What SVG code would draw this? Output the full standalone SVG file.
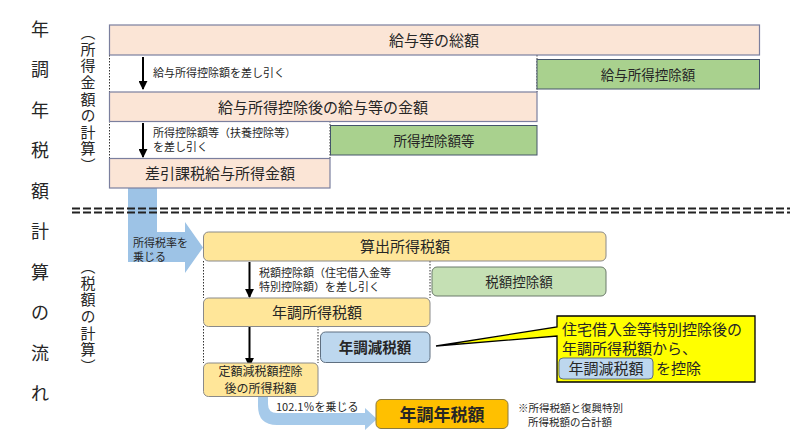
<svg xmlns="http://www.w3.org/2000/svg" width="798" height="435" viewBox="0 0 798 435">
<defs>
<style>
.t{font-family:"Noto Sans CJK JP","Noto Sans",sans-serif;fill:#262626}
.pe{fill:#fbe5d6;stroke:#7b7f9e;stroke-width:1.2}
.gr{fill:#a9d18e;stroke:#44546a;stroke-width:1}
.ye{fill:#ffe699;stroke:#8a8a8a;stroke-width:1}
.g2{fill:#c5e0b4;stroke:#6a7a6a;stroke-width:1}
.bl{fill:#bdd7ee;stroke:#5f6f80;stroke-width:1}
.dot{stroke:#333;stroke-width:1;stroke-dasharray:1.5 1.5;fill:none}
.arr{stroke:#000;stroke-width:2;fill:none;marker-end:url(#ah)}
.m{text-anchor:middle}
.vt{writing-mode:vertical-rl;font-size:15px;letter-spacing:1.6px}
</style>
<marker id="ah" viewBox="0 0 10 10" refX="9" refY="5" markerWidth="4.5" markerHeight="4.5" orient="auto" markerUnits="strokeWidth">
<path d="M0,0 L10,5 L0,10 Z" fill="#000"/>
</marker>
</defs>
<rect width="798" height="435" fill="#fff"/>

<g id="title" class="t m" font-size="18">
<text x="40" y="35.5">年</text>
<text x="40" y="76">調</text>
<text x="40" y="116.5">年</text>
<text x="40" y="157">税</text>
<text x="40" y="197.5">額</text>
<text x="40" y="238">計</text>
<text x="40" y="278.5">算</text>
<text x="40" y="319">の</text>
<text x="40" y="359.5">流</text>
<text x="40" y="400">れ</text>
</g>
<g id="label-income" class="t"><text class="vt" x="88" y="25">（所得金額の計算）</text></g>
<g id="label-tax" class="t"><text class="vt" x="88" y="259">（税額の計算）</text></g>

<g id="connectors">
<path d="M128,188 H157 V232 H185 V222 L203,247.5 L185,273 V262 H128 Z" fill="#9dc3e6"/>
<path d="M258,396 H268 V404 Q268,413 277,413 H365 V408 L377,419 L365,430 V425 H277 Q258,425 258,406 Z" fill="#a6caea"/>
<line x1="72" y1="208.5" x2="790" y2="208.5" stroke="#222" stroke-width="1.8" stroke-dasharray="8 3"/>
<line x1="72" y1="212.5" x2="790" y2="212.5" stroke="#222" stroke-width="1.8" stroke-dasharray="8 3"/>
<line class="arr" x1="143" y1="57" x2="143" y2="89"/>
<line class="arr" x1="143" y1="123" x2="143" y2="157"/>
<line class="arr" x1="249.5" y1="262" x2="249.5" y2="297"/>
<line class="arr" x1="249.5" y1="327" x2="249.5" y2="366"/>
<path class="dot" d="M109.5,25 V188 M537,55 V92 M330,121 V158 M203.5,261 V298 M203.5,326 V363 M430,261 V298 M318,326 V363"/>
<g class="t" font-size="11">
<text x="153" y="77">給与所得控除額を差し引く</text>
<text x="153" y="136.5">所得控除額等（扶養控除等）</text>
<text x="153" y="151">を差し引く</text>
<text x="133" y="246.5">所得税率を</text>
<text x="133" y="261">乗じる</text>
<text x="259" y="276.5">税額控除額（住宅借入金等</text>
<text x="259" y="291">特別控除額）を差し引く</text>
<text x="276" y="411">102.1％を乗じる</text>
</g>
</g>

<g id="n-total"><rect class="pe" x="109.5" y="25" width="650" height="30"/><text class="t m" x="434" y="46" font-size="15">給与等の総額</text></g>
<g id="n-kyuyo-kojo"><rect class="gr" x="537" y="59.5" width="222.5" height="29.5"/><text class="t m" x="648" y="79.5" font-size="13.5">給与所得控除額</text></g>
<g id="n-after-kojo"><rect class="pe" x="109.5" y="92" width="427.5" height="29.5"/><text class="t m" x="323" y="112.5" font-size="15">給与所得控除後の給与等の金額</text></g>
<g id="n-shotoku-kojo"><rect class="gr" x="330.5" y="125.5" width="206.5" height="29.5"/><text class="t m" x="434" y="145.5" font-size="13.5">所得控除額等</text></g>
<g id="n-kazei"><rect class="pe" x="109.5" y="158.5" width="220.5" height="29.5"/><text class="t m" x="220" y="179" font-size="15">差引課税給与所得金額</text></g>

<g id="n-sanshutsu"><rect class="ye" x="203.5" y="232" width="402.5" height="29" rx="5"/><text class="t m" x="405" y="252" font-size="15">算出所得税額</text></g>
<g id="n-zeigaku-kojo"><rect class="g2" x="432" y="267" width="174" height="29" rx="5"/><text class="t m" x="519" y="286.5" font-size="13.5">税額控除額</text></g>
<g id="n-nencho-shotoku"><rect class="ye" x="203.5" y="298" width="226.5" height="28.5" rx="5"/><text class="t m" x="317" y="317.5" font-size="15">年調所得税額</text></g>
<g id="n-gensei"><rect class="bl" x="320.5" y="332" width="109.5" height="30.5" rx="5"/><text class="t m" x="375" y="352.5" font-size="14.5" font-weight="bold">年調減税額</text></g>
<g id="n-teigaku"><rect class="ye" x="203.5" y="363" width="114.5" height="33.5" rx="5"/><text class="t m" x="260.5" y="376" font-size="12">定額減税額控除</text><text class="t m" x="260.5" y="393" font-size="12">後の所得税額</text></g>
<g id="n-nenzei"><rect x="376" y="399.5" width="132" height="29" rx="5" fill="#ffc000" stroke="#8a7a40" stroke-width="1"/><text class="t m" x="442" y="420.5" font-size="17" font-weight="bold">年調年税額</text></g>
<g id="note" class="t" font-size="10.5"><text x="518" y="412">※所得税額と復興特別</text><text x="528" y="426">所得税額の合計額</text></g>

<g id="callout">
<path d="M557,316 H755 V382 H557 V336 L436,346 L557,327 Z" fill="#ffff00" stroke="#000" stroke-width="1.3"/>
<text class="t" x="562" y="335" font-size="15">住宅借入金等特別控除後の</text>
<text class="t" x="562" y="354" font-size="15">年調所得税額から、</text>
<rect class="bl" x="559" y="358" width="94" height="21" rx="4"/>
<text class="t m" x="606" y="374" font-size="15">年調減税額</text>
<text class="t" x="656" y="374" font-size="15">を控除</text>
</g>
</svg>
